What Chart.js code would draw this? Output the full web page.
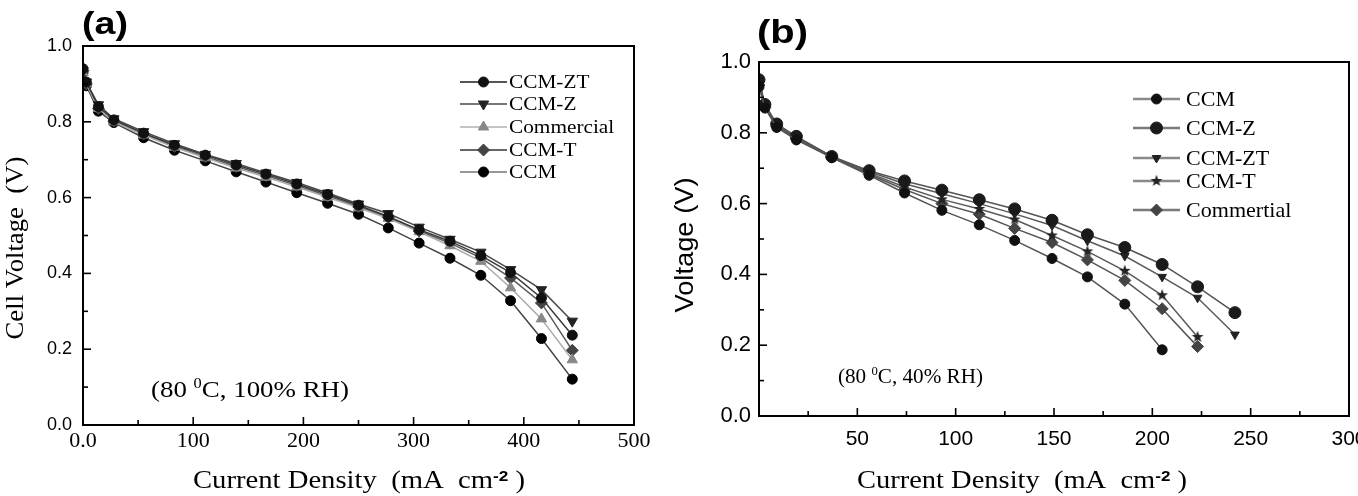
<!DOCTYPE html>
<html><head><meta charset="utf-8">
<script src="https://cdn.jsdelivr.net/npm/chart.js@4/dist/chart.umd.min.js"></script>
<style>
html,body{margin:0;padding:0;background:#fff;width:1358px;height:496px;overflow:hidden;}
#ca{position:absolute;left:0;top:0;}
#cb{position:absolute;left:640px;top:0;}
</style></head><body>
<canvas id="ca" width="680" height="496"></canvas>
<canvas id="cb" width="718" height="496"></canvas>
<script>
// ---------- Panel (a) data: 80 C, 100% RH ----------
const xA = [0, 3, 14, 28, 55, 83, 111, 139, 166, 194, 222, 250, 277, 305, 333, 361, 388, 416, 444];
const aCCMZT = [0.94, 0.905, 0.84, 0.805, 0.77, 0.738, 0.712, 0.686, 0.662, 0.636, 0.608, 0.58, 0.55, 0.515, 0.485, 0.447, 0.402, 0.335, 0.237];
const aCCMZ  = [0.935, 0.905, 0.845, 0.808, 0.774, 0.742, 0.714, 0.69, 0.665, 0.64, 0.612, 0.583, 0.558, 0.522, 0.49, 0.456, 0.41, 0.357, 0.274];
const aComm  = [0.93, 0.9, 0.835, 0.80, 0.765, 0.733, 0.705, 0.678, 0.654, 0.628, 0.601, 0.573, 0.545, 0.51, 0.473, 0.432, 0.362, 0.28, 0.172];
const aCCMT  = [0.935, 0.9, 0.835, 0.802, 0.768, 0.735, 0.708, 0.682, 0.658, 0.632, 0.604, 0.576, 0.548, 0.512, 0.48, 0.441, 0.388, 0.322, 0.197];
const aCCM   = [0.93, 0.895, 0.828, 0.798, 0.758, 0.725, 0.697, 0.668, 0.641, 0.613, 0.585, 0.556, 0.52, 0.48, 0.44, 0.395, 0.328, 0.228, 0.121];
const seriesA = ['CCM-ZT', 'CCM-Z', 'Commercial', 'CCM-T', 'CCM'];
const xTicksA = ['0.0', '100', '200', '300', '400', '500'];
const yTicksA = ['0.0', '0.2', '0.4', '0.6', '0.8', '1.0'];

// ---------- Panel (b) data: 80 C, 40% RH ----------
const xB = [0, 3, 9, 19, 37, 56, 74, 93, 112, 130, 149, 167, 186, 205, 223, 242];
const bCCM   = [0.93, 0.87, 0.815, 0.78, 0.73, 0.68, 0.63, 0.581, 0.54, 0.496, 0.445, 0.393, 0.316, 0.187];
const bCCMZ  = [0.95, 0.88, 0.825, 0.79, 0.733, 0.693, 0.664, 0.638, 0.611, 0.585, 0.553, 0.512, 0.476, 0.428, 0.365, 0.292];
const bCCMZT = [0.945, 0.877, 0.822, 0.788, 0.733, 0.69, 0.656, 0.628, 0.6, 0.571, 0.538, 0.495, 0.452, 0.393, 0.334, 0.23];
const bCCMT  = [0.94, 0.875, 0.82, 0.785, 0.732, 0.686, 0.647, 0.612, 0.585, 0.555, 0.51, 0.465, 0.41, 0.341, 0.223];
const bComm  = [0.935, 0.872, 0.818, 0.782, 0.731, 0.683, 0.64, 0.6, 0.57, 0.53, 0.49, 0.441, 0.383, 0.303, 0.196];
const seriesB = ['CCM', 'CCM-Z', 'CCM-ZT', 'CCM-T', 'Commertial'];
const xTicksB = ['', '50', '100', '150', '200', '250', '300'];
const yTicksB = ['0.0', '0.2', '0.4', '0.6', '0.8', '1.0'];

const SERIF = '"Liberation Serif", "Times New Roman", serif';
const SANS = '"Liberation Sans", Arial, sans-serif';

// filled star marker
function starCanvas(color) {
  const c = document.createElement('canvas'); c.width = 14; c.height = 14;
  const g = c.getContext('2d'); g.fillStyle = color; g.beginPath();
  for (let i = 0; i < 10; i++) {
    const r = i % 2 ? 2.6 : 6.2, a = -Math.PI / 2 + i * Math.PI / 5;
    g.lineTo(7 + r * Math.cos(a), 7 + r * Math.sin(a));
  }
  g.closePath(); g.fill(); return c;
}

const pts = (xs, ys) => ys.map((v, i) => ({ x: xs[i], y: v }));

function ds(label, xs, ys, line, fill, style, radius, rot) {
  return {
    label, data: pts(xs, ys), borderColor: line, borderWidth: 1.5, showLine: true,
    pointStyle: style, pointRadius: radius, pointRotation: rot || 0,
    pointBackgroundColor: fill, pointBorderColor: fill, pointBorderWidth: 1, tension: 0, fill: false
  };
}

function richText(ctx, t) {
  ctx.save();
  ctx.translate(t.x, t.y);
  if (t.rot) ctx.rotate(t.rot);
  let w = 0;
  t.parts.forEach(p => { ctx.font = p.f; p.w = ctx.measureText(p.t).width; w += p.w; });
  const s = t.fitW ? t.fitW / w : (t.sx || 1);
  ctx.scale(s, 1);
  let cx = t.align === 'center' ? -w / 2 : 0;
  ctx.textAlign = 'left'; ctx.textBaseline = 'alphabetic'; ctx.fillStyle = '#000';
  t.parts.forEach(p => { ctx.font = p.f; ctx.fillText(p.t, cx, p.dy || 0); cx += p.w; });
  ctx.restore();
}

const decor = {
  id: 'decor',
  afterDraw(chart, args, o) {
    const ctx = chart.ctx, a = chart.chartArea, xs = chart.scales.x, ys = chart.scales.y;
    ctx.save();
    ctx.strokeStyle = '#000'; ctx.lineWidth = 2;
    ctx.strokeRect(a.left, a.top, a.right - a.left, a.bottom - a.top);
    ctx.lineWidth = 1.6;
    const tk = (scale, major, minor, isX) => {
      for (let v = scale.min; v <= scale.max + 1e-9; v += minor) {
        const m = Math.abs(v / major - Math.round(v / major)) < 1e-6;
        const len = m ? 8 : 5, p = scale.getPixelForValue(v);
        ctx.beginPath();
        if (isX) { ctx.moveTo(p, a.bottom); ctx.lineTo(p, a.bottom - len); }
        else { ctx.moveTo(a.left, p); ctx.lineTo(a.left + len, p); }
        ctx.stroke();
      }
    };
    tk(xs, o.xMajor, o.xMinor, true);
    tk(ys, 0.2, 0.1, false);
    // legend
    const L = o.legend;
    chart.data.datasets.forEach((d, i) => {
      const y = L.rows[i];
      ctx.strokeStyle = L.lineColors[i]; ctx.lineWidth = L.lineW;
      ctx.beginPath(); ctx.moveTo(L.x0, y); ctx.lineTo(L.x1, y); ctx.stroke();
      ctx.fillStyle = d.pointBackgroundColor; ctx.strokeStyle = d.pointBorderColor; ctx.lineWidth = 1;
      Chart.helpers.drawPoint(ctx, { pointStyle: d.pointStyle, rotation: d.pointRotation, radius: d.pointRadius, borderWidth: 1 }, (L.x0 + L.x1) / 2, y);
      richText(ctx, { x: L.tx, y: y + L.dy, sx: L.sx, parts: [{ t: d.label, f: L.font }] });
    });
    o.texts.forEach(t => richText(ctx, t));
    ctx.restore();
  }
};

function makeChart(id, datasets, opt) {
  return new Chart(document.getElementById(id), {
    type: 'line',
    data: { datasets },
    plugins: [decor],
    options: {
      responsive: false, animation: false, events: [],
      layout: { padding: opt.padding },
      plugins: { legend: { display: false }, tooltip: { enabled: false }, decor: opt.decor },
      scales: {
        x: {
          type: 'linear', min: 0, max: opt.xMax,
          grid: { display: false, drawTicks: false }, border: { display: false },
          ticks: { stepSize: opt.xStep, autoSkip: false, maxRotation: 0, color: '#000', padding: opt.xPad, font: opt.xFont,
                   callback: (v, i) => opt.xLabels[i] },
          afterFit: s => { s.height = opt.xH; s.paddingLeft = 0; s.paddingRight = 0; }
        },
        y: {
          min: 0, max: 1,
          grid: { display: false, drawTicks: false }, border: { display: false },
          ticks: { stepSize: 0.2, autoSkip: false, color: '#000', padding: opt.yPad, font: opt.yFont,
                   callback: (v, i) => opt.yLabels[i] },
          afterFit: s => { s.width = opt.yW; s.paddingTop = 0; s.paddingBottom = 0; }
        }
      }
    }
  });
}

// ---------- Chart (a) ----------
makeChart('ca', [
  ds(seriesA[0], xA, aCCMZT, '#3a3a3a', '#111', 'circle', 5),
  ds(seriesA[1], xA, aCCMZ, '#4a4a4a', '#222', 'triangle', 6, 180),
  ds(seriesA[2], xA, aComm, '#aaaaaa', '#888', 'triangle', 6),
  ds(seriesA[3], xA, aCCMT, '#5a5a5a', '#444', 'rectRot', 6),
  ds(seriesA[4], xA, aCCM, '#444444', '#000', 'circle', 5)
], {
  padding: { left: 0, top: 46, right: 46, bottom: 0 },
  xMax: 500, xStep: 100, xPad: 3, xH: 71, xLabels: xTicksA,
  xFont: { family: SERIF, size: 22 },
  yPad: 11, yW: 83, yLabels: yTicksA, yFont: { family: SANS, size: 18 },
  decor: {
    xMajor: 100, xMinor: 50,
    legend: { x0: 460, x1: 507, tx: 509, dy: 6, sx: 1.12, lineW: 2.2, font: '19px ' + SERIF,
              rows: [82, 104, 127, 150, 172],
              lineColors: ['#555', '#777', '#c4c4c4', '#666', '#999'] },
    texts: [
      { x: 82, y: 34, fitW: 46, parts: [{ t: '(a)', f: 'bold 32px ' + SANS }] },
      { x: 151, y: 397, fitW: 198, parts: [
        { t: '(80 ', f: '23px ' + SERIF }, { t: '0', f: '14px ' + SERIF, dy: -9 },
        { t: 'C, 100% RH)', f: '23px ' + SERIF }] },
      { x: 359, y: 488, align: 'center', fitW: 332, parts: [
        { t: 'Current Density  (mA  cm', f: '25px ' + SERIF }, { t: '-2', f: 'bold 15px ' + SANS, dy: -7 },
        { t: ' )', f: '25px ' + SERIF }] },
      { x: 23, y: 248, rot: -Math.PI / 2, align: 'center', fitW: 183, parts: [
        { t: 'Cell Voltage  (V)', f: '26px ' + SERIF }] }
    ]
  }
});

// ---------- Chart (b) ----------
makeChart('cb', [
  ds(seriesB[0], xB, bCCM, '#555', '#111', 'circle', 5),
  ds(seriesB[1], xB, bCCMZ, '#555', '#1a1a1a', 'circle', 6),
  ds(seriesB[2], xB, bCCMZT, '#5a5a5a', '#222', 'triangle', 5, 180),
  ds(seriesB[3], xB, bCCMT, '#5a5a5a', '#222', starCanvas('#222'), 6),
  ds(seriesB[4], xB, bComm, '#555', '#444', 'rectRot', 6)
], {
  padding: { left: 0, top: 62, right: 9, bottom: 0 },
  xMax: 300, xStep: 50, xPad: 11, xH: 80, xLabels: xTicksB,
  xFont: { family: SANS, size: 21 },
  yPad: 8, yW: 119, yLabels: yTicksB, yFont: { family: SANS, size: 22 },
  decor: {
    xMajor: 50, xMinor: 25,
    legend: { x0: 493, x1: 540, tx: 546, dy: 7, sx: 1.05, lineW: 2.6, font: '21px ' + SERIF,
              rows: [99, 128, 158, 181, 210],
              lineColors: ['#8a8a8a', '#7a7a7a', '#8a8a8a', '#8a8a8a', '#7a7a7a'] },
    texts: [
      { x: 117, y: 43, fitW: 51, parts: [{ t: '(b)', f: 'bold 34px ' + SANS }] },
      { x: 198, y: 383, fitW: 145, parts: [
        { t: '(80 ', f: '20px ' + SERIF }, { t: '0', f: '12px ' + SERIF, dy: -8 },
        { t: 'C, 40% RH)', f: '20px ' + SERIF }] },
      { x: 382, y: 488, align: 'center', fitW: 330, parts: [
        { t: 'Current Density  (mA  cm', f: '25px ' + SERIF }, { t: '-2', f: 'bold 15px ' + SANS, dy: -7 },
        { t: ' )', f: '25px ' + SERIF }] },
      { x: 53, y: 245, rot: -Math.PI / 2, align: 'center', fitW: 135, parts: [
        { t: 'Voltage (V)', f: '25px ' + SANS }] }
    ]
  }
});
</script>
</body></html>
